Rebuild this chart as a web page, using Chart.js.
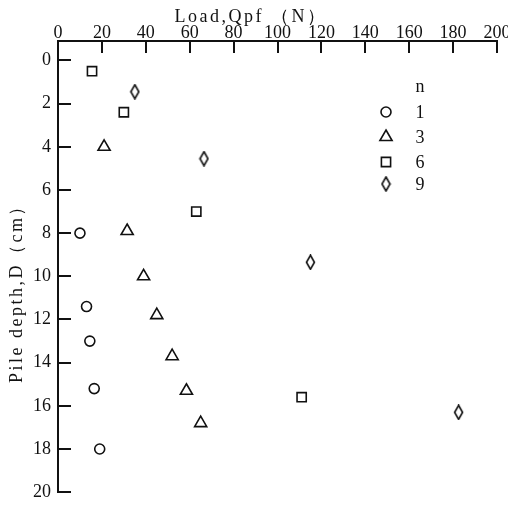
<!DOCTYPE html>
<html>
<head>
<meta charset="utf-8">
<script src="https://cdn.jsdelivr.net/npm/chart.js@4.4.0/dist/chart.umd.min.js"></script>
<style>
  html, body { margin: 0; padding: 0; background: #fff; }
  canvas { display: block; }
</style>
</head>
<body>
<canvas id="pileChart" width="508" height="510"></canvas>
<script>
const xTicks = [0, 20, 40, 60, 80, 100, 120, 140, 160, 180, 200];
const yTicks = [0, 2, 4, 6, 8, 10, 12, 14, 16, 18, 20];
const nLabels = ['1', '3', '6', '9'];

// n = 1
const loadN1 = [10, 13, 14.5, 16.5, 19];
const depthN1 = [8.0, 11.4, 13.0, 15.2, 18.0];
// n = 3
const loadN3 = [21, 31.5, 39, 45, 52, 58.5, 65];
const depthN3 = [4.0, 7.9, 10.0, 11.8, 13.7, 15.3, 16.8];
// n = 6
const loadN6 = [15.5, 30, 63, 111];
const depthN6 = [0.5, 2.4, 7.0, 15.6];
// n = 9
const loadN9 = [35, 66.5, 115, 182.5];
const depthN9 = [1.45, 4.55, 9.35, 16.3];

const INK = '#111';
const SERIF = '"Liberation Serif", "DejaVu Serif", serif';

function pairs(xs, ys) {
  return xs.map((v, i) => ({ x: v, y: ys[i] }));
}

// tall thin diamond marker
function diamond(w, h) {
  const c = document.createElement('canvas');
  c.width = w;
  c.height = h;
  const g = c.getContext('2d');
  g.strokeStyle = INK;
  g.lineWidth = 1.6;
  g.beginPath();
  g.moveTo(w / 2, 1);
  g.lineTo(w - 1.5, h / 2);
  g.lineTo(w / 2, h - 1);
  g.lineTo(1.5, h / 2);
  g.closePath();
  g.stroke();
  return c;
}

const markerBase = {
  borderColor: INK,
  backgroundColor: 'rgba(0,0,0,0)',
  borderWidth: 1.6,
};

const datasets = [
  { ...markerBase, label: nLabels[0], data: pairs(loadN1, depthN1), pointStyle: 'circle', pointRadius: 5 },
  { ...markerBase, label: nLabels[1], data: pairs(loadN3, depthN3), pointStyle: 'triangle', pointRadius: 7 },
  { ...markerBase, label: nLabels[2], data: pairs(loadN6, depthN6), pointStyle: 'rect', pointRadius: 6.5 },
  { ...markerBase, label: nLabels[3], data: pairs(loadN9, depthN9), pointStyle: diamond(11, 16), pointRadius: 8 },
];

// tick marks pointing into the plot, like the original figure
const innerTicks = {
  id: 'innerTicks',
  afterDraw(chart) {
    const { ctx, chartArea, scales: { x, y } } = chart;
    ctx.save();
    ctx.strokeStyle = INK;
    ctx.lineWidth = 2;
    ctx.beginPath();
    x.ticks.forEach(t => {
      const px = Math.round(x.getPixelForValue(t.value));
      ctx.moveTo(px, chartArea.top);
      ctx.lineTo(px, chartArea.top + 12);
    });
    y.ticks.forEach(t => {
      const py = Math.round(y.getPixelForValue(t.value));
      ctx.moveTo(chartArea.left, py);
      ctx.lineTo(chartArea.left + 13, py);
    });
    ctx.stroke();
    ctx.restore();
  },
};

const axisTitles = {
  id: 'axisTitles',
  afterDraw(chart) {
    const ctx = chart.ctx;
    ctx.save();
    ctx.fillStyle = INK;
    ctx.font = '18px ' + SERIF;
    ctx.letterSpacing = '2.5px';
    ctx.textAlign = 'center';
    ctx.textBaseline = 'middle';
    ctx.fillText('Load,Qpf （N）', 251, 17);
    ctx.translate(17, 289);
    ctx.rotate(-Math.PI / 2);
    ctx.fillText('Pile depth,D（cm）', 0, 0);
    ctx.restore();
  },
};

const markerKey = {
  id: 'markerKey',
  afterDraw(chart) {
    const ctx = chart.ctx;
    const rowsY = [112, 137, 162, 184];
    ctx.save();
    ctx.fillStyle = INK;
    ctx.font = '18px ' + SERIF;
    ctx.textAlign = 'center';
    ctx.textBaseline = 'middle';
    ctx.fillText('n', 420, 87);
    chart.data.datasets.forEach((ds, i) => {
      ctx.strokeStyle = INK;
      ctx.fillStyle = 'rgba(0,0,0,0)';
      ctx.lineWidth = ds.borderWidth;
      Chart.helpers.drawPoint(ctx, {
        pointStyle: ds.pointStyle,
        radius: ds.pointRadius,
        borderWidth: ds.borderWidth,
        rotation: 0,
      }, 386, rowsY[i]);
      ctx.fillStyle = INK;
      ctx.fillText(ds.label, 420, rowsY[i] + 1);
    });
    ctx.restore();
  },
};

new Chart(document.getElementById('pileChart'), {
  type: 'scatter',
  data: { datasets },
  options: {
    responsive: false,
    animation: false,
    events: [],
    layout: { padding: { top: 0, left: 0, right: 11, bottom: 8 } },
    plugins: {
      legend: { display: false },
      tooltip: { enabled: false },
    },
    scales: {
      x: {
        type: 'linear',
        position: 'top',
        min: 0,
        max: 200,
        grid: { display: false, drawTicks: false },
        border: { display: true, color: INK, width: 2 },
        ticks: { color: INK, font: { family: SERIF, size: 18 }, padding: -3, autoSkip: false, maxRotation: 0 },
        afterBuildTicks: s => { s.ticks = xTicks.map(v => ({ value: v })); },
        afterFit: s => { s.height = 41; },
      },
      y: {
        type: 'linear',
        reverse: true,
        min: -0.9,
        max: 20,
        grid: { display: false, drawTicks: false },
        border: { display: true, color: INK, width: 2 },
        ticks: { color: INK, font: { family: SERIF, size: 18 }, padding: 7, autoSkip: false },
        afterBuildTicks: s => { s.ticks = yTicks.map(v => ({ value: v })); },
        afterFit: s => { s.width = 58; },
      },
    },
  },
  plugins: [innerTicks, axisTitles, markerKey],
});
</script>
</body>
</html>
